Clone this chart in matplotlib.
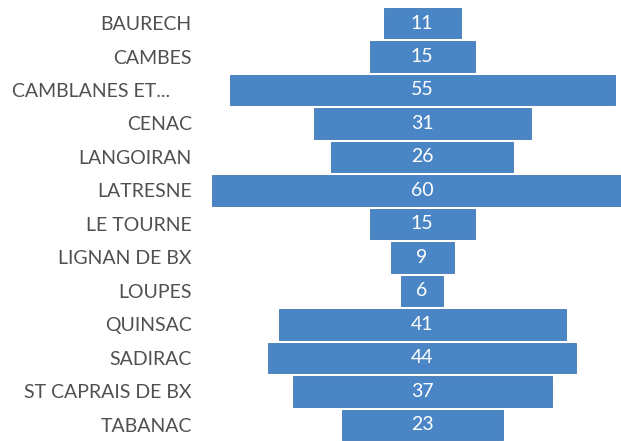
import matplotlib.pyplot as plt

# Communes et valeurs
communes = ['BAURECH', 'CAMBES', 'CAMBLANES ET...', 'CENAC', 'LANGOIRAN',
            'LATRESNE', 'LE TOURNE', 'LIGNAN DE BX', 'LOUPES', 'QUINSAC',
            'SADIRAC', 'ST CAPRAIS DE BX', 'TABANAC']
valeurs = [11, 15, 55, 31, 26, 60, 15, 9, 6, 41, 44, 37, 23]

bleu = '#4a86c6'
gris = '#505050'
police = ['Lato', 'DejaVu Sans']

fig = plt.figure(figsize=(6.21, 4.41), dpi=100)
ax = fig.add_axes([205 / 621, 0, 1 - 205 / 621, 1])

pos = list(range(len(communes)))
gauche = [-v / 2 for v in valeurs]
ax.barh(pos, valeurs, left=gauche, height=0.92, color=bleu,
        edgecolor='#4279b8', linewidth=0.6)

for i, v in enumerate(valeurs):
    ax.text(0, i, str(v), ha='center', va='center', color='white',
            fontsize=14, family=police)

ax.set_xlim(-31, 28.4)
ax.set_ylim(12.48, -0.687)
ax.set_yticks(pos)
ax.set_yticklabels(communes, fontsize=14, color=gris, family=police)
ax.tick_params(axis='y', length=0, pad=9.5)
ax.set_xticks([])
for s in ax.spines.values():
    s.set_visible(False)

# ajuste CAMBLANES (libelle tronque)
ax.get_yticklabels()[2].set_x(-0.052)

fig.savefig('out.png', dpi=100)
